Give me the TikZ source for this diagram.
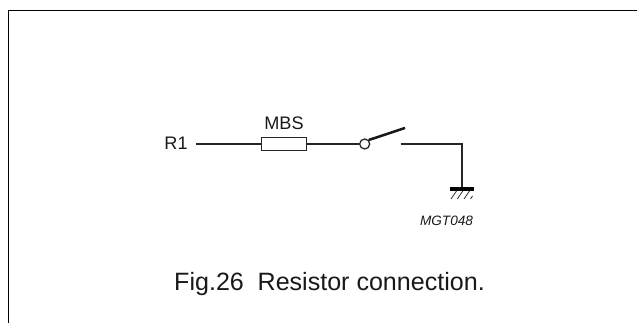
\documentclass[tikz,border=0pt]{standalone}
\usepackage{fontspec}
\setmainfont{Liberation Sans}
\tikzset{
  px/.style={x=0.75pt,y=-0.75pt},
  wire/.style={draw=black!85,line width=0.95pt},
  frameline/.style={draw=black,line width=1.2pt},
  lab/.style={font=\fontsize{13.6pt}{15pt}\selectfont,text=black!90,inner sep=0pt},
  tag/.style={font=\fontsize{10.2pt}{12pt}\selectfont\itshape,text=black!90,inner sep=0pt},
  captext/.style={font=\fontsize{18.8pt}{20pt}\selectfont,text=black!90,inner sep=0pt}
}
\begin{document}
\begin{tikzpicture}[px]
\useasboundingbox (0,0) rectangle (637,323);
\draw[frameline] (8.5,323) -- (8.5,10.5) -- (637,10.5);
\node[lab,anchor=base] (r1) at (176,150) {R1};
\node[lab,anchor=base] (mbs) at (284,130) {MBS};
\node[draw=black!85,line width=0.95pt,fill=white,minimum width=33.75pt,minimum height=10.2pt,inner sep=0pt] (res) at (284,144) {};
\coordinate (a) at (195.5,144);
\node[circle,draw=black!85,line width=0.95pt,fill=white,minimum size=7.5pt,inner sep=0pt] (sw) at (364.7,144) {};
\coordinate (tip) at (405,128);
\coordinate (c) at (400.7,144);
\coordinate (d) at (462,144);
\coordinate (g) at (462,188);
\draw[wire] (a) -- (res.west);
\draw[wire] (res.east) -- (sw.west);
\draw[line width=1.9pt,draw=black!90] (sw.north east) -- (tip);
\draw[wire] (c) -- (d) -- (g);
\draw[line width=2.5pt,draw=black] (450,189) -- (474,189);
\foreach \x in {451,457.3,464}{\draw[line width=0.55pt,draw=black!85] (\x,199) -- (\x+5.5,191);}
\draw[line width=0.55pt,draw=black!85] (470.5,199) -- (472.5,196);
\node[tag,anchor=base] (mgt) at (446.5,225.7) {MGT048};
\node[captext,anchor=base] (fig) at (329.5,291) {Fig.26\hspace{0.55em}Resistor connection.};
\end{tikzpicture}
\end{document}
